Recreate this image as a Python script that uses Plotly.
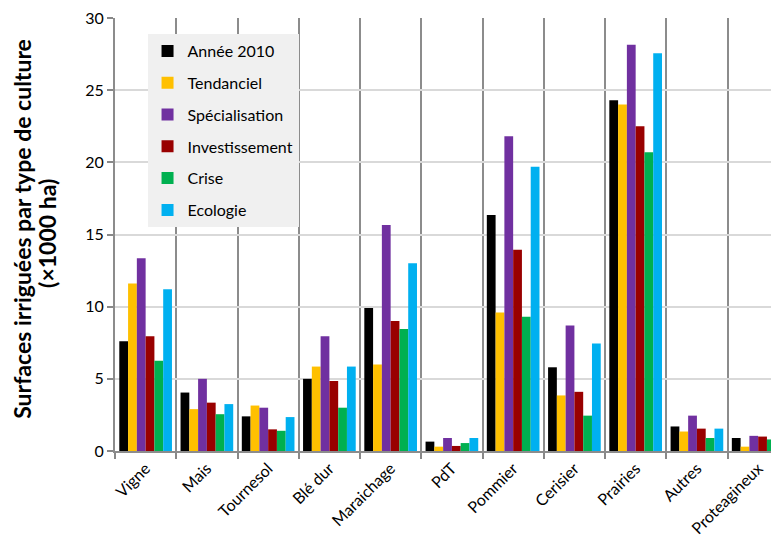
import plotly.graph_objects as go

categories = ["Vigne", "Mais", "Tournesol", "Blé dur", "Maraichage", "PdT",
              "Pommier", "Cerisier", "Prairies", "Autres", "Proteagineux"]

annee_2010 = [7.6, 4.05, 2.4, 5.0, 9.9, 0.65, 16.35, 5.8, 24.3, 1.7, 0.9]
tendanciel = [11.6, 2.9, 3.15, 5.85, 6.0, 0.3, 9.6, 3.85, 24.0, 1.35, 0.3]
specialisation = [13.35, 5.0, 3.0, 7.95, 15.65, 0.9, 21.8, 8.7, 28.15, 2.45, 1.05]
investissement = [7.95, 3.35, 1.5, 4.85, 9.0, 0.35, 13.95, 4.1, 22.5, 1.55, 1.0]
crise = [6.25, 2.55, 1.4, 3.0, 8.45, 0.55, 9.3, 2.45, 20.7, 0.9, 0.8]
ecologie = [11.2, 3.25, 2.35, 5.85, 13.0, 0.9, 19.7, 7.45, 27.55, 1.55, 1.45]

title_line1 = "Surfaces irriguées par type de culture"
title_line2 = "(×1000 ha)"

series = [
    ("Année 2010", annee_2010, "#000000"),
    ("Tendanciel", tendanciel, "#FFC000"),
    ("Spécialisation", specialisation, "#7030A0"),
    ("Investissement", investissement, "#990000"),
    ("Crise", crise, "#00B050"),
    ("Ecologie", ecologie, "#00B0F0"),
]

FONT = "Lato, 'Open Sans', sans-serif"

fig = go.Figure()
for i, (name, vals, col) in enumerate(series):
    fig.add_trace(go.Bar(
        x=categories, y=vals, name=name, marker_color=col,
        marker_line_width=0, legendgroup=f"g{i}",
    ))

fig.update_layout(
    width=779, height=545,
    margin=dict(l=107, r=8, t=10, b=102),
    paper_bgcolor="white", plot_bgcolor="white",
    barmode="group", bargap=0.14, bargroupgap=0,
    font=dict(family=FONT, size=16, color="#000000"),
    showlegend=True,
    legend=dict(
        x=0.049, y=0.963, xanchor="left", yanchor="top",
        bgcolor="#F0F0F0", borderwidth=0,
        font=dict(family=FONT, size=16, color="#000000"),
        tracegroupgap=8, itemwidth=30,
    ),
)

fig.update_xaxes(
    type="category", range=[-0.5, 10.34], automargin=False,
    tickson="boundaries", ticks="outside", ticklen=6, tickcolor="#888888", tickwidth=2,
    showgrid=True, gridcolor="#8C8C8C", gridwidth=2,
    showline=True, linecolor="#8C8C8C", linewidth=2,
    tickangle=-45, tickfont=dict(family=FONT, size=16),
)

fig.update_yaxes(
    range=[0, 30], dtick=5, tick0=0, automargin=False,
    ticklabeloverflow="allow",
    ticks="outside", ticklen=6, tickcolor="#888888", tickwidth=2,
    showgrid=True, gridcolor="#D9D9D9", gridwidth=2,
    showline=True, linecolor="#8C8C8C", linewidth=2,
    zeroline=False,
    tickfont=dict(family=FONT, size=16),
)

fig.add_annotation(
    text=f"<b>{title_line1}</b>", xref="paper", yref="paper",
    x=-0.1395, y=0.514, xanchor="center", yanchor="middle",
    textangle=-90, showarrow=False, font=dict(family=FONT, size=23),
)
fig.add_annotation(
    text=f"<b>{title_line2}</b>", xref="paper", yref="paper",
    x=-0.1035, y=0.502, xanchor="center", yanchor="middle",
    textangle=-90, showarrow=False, font=dict(family=FONT, size=23),
)

fig.write_html("out.html")
